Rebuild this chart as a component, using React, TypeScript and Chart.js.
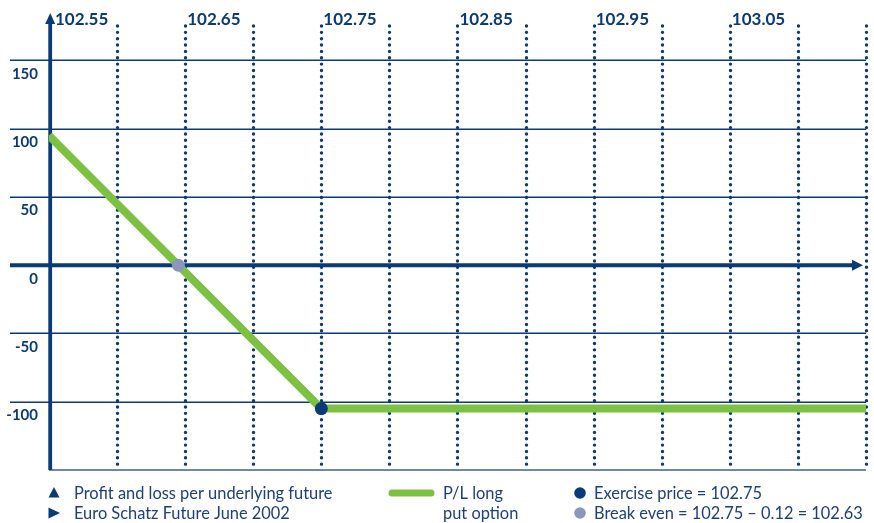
import React, { useEffect, useRef } from 'react';
import { Chart, registerables } from 'chart.js';

Chart.register(...registerables);

// ---- data ----
const xTickValues = [102.55, 102.6, 102.65, 102.7, 102.75, 102.8, 102.85, 102.9, 102.95, 103.0, 103.05, 103.1, 103.15];
const xTickLabels = ['102.55', '102.65', '102.75', '102.85', '102.95', '103.05'];
const xLabelValues = [102.55, 102.65, 102.75, 102.85, 102.95, 103.05];
const yTickValues = [150, 100, 50, -50, -100];
const yTickLabels = ['150', '100', '50', '0', '-50', '-100'];
const yLabelValues = [150, 100, 50, 0, -50, -100];
const xRange = [102.55, 103.15];
const yRange = [-150, 176];

const futurePrice = [102.55, 102.645, 102.75, 103.15];
const profitLoss = [95, 0, -105, -105];
const exercisePrice = [102.75];
const exercisePL = [-105];
const breakEvenPrice = [102.645];
const breakEvenPL = [0];

const legendLeft = ['Profit and loss per underlying future', 'Euro Schatz Future June 2002'];
const legendMiddle = ['P/L long', 'put option'];
const legendRight = ['Exercise price = 102.75', 'Break even = 102.75 \u2013 0.12 = 102.63'];

// ---- styles ----
const NAVY = '#0a3a78';
const TEXT = '#1c3f7d';
const GREEN = '#7dc142';
const GREY = '#8b96be';

const gridPlugin = {
  id: 'schematicGrid',
  beforeDatasetsDraw(chart: any) {
    const { ctx, chartArea, scales } = chart;
    const xs = scales.x;
    const ys = scales.y;
    const left = chartArea.left;
    const right = chartArea.right;
    const top = chartArea.top;
    const bottom = chartArea.bottom;
    ctx.save();

    // horizontal grid lines
    ctx.strokeStyle = NAVY;
    ctx.lineWidth = 1.6;
    yTickValues.forEach((v) => {
      const y = Math.round(ys.getPixelForValue(v)) + 0.2;
      ctx.beginPath();
      ctx.moveTo(10, y);
      ctx.lineTo(right, y);
      ctx.stroke();
    });
    // bottom line
    ctx.strokeStyle = '#3e5f94';
    ctx.lineWidth = 1.3;
    ctx.beginPath();
    ctx.moveTo(left, bottom);
    ctx.lineTo(right, bottom);
    ctx.stroke();

    // dotted vertical lines
    ctx.strokeStyle = NAVY;
    ctx.lineWidth = 3.4;
    ctx.lineCap = 'round';
    ctx.setLineDash([0, 6.35]);
    xTickValues.slice(1).forEach((v) => {
      const x = Math.round(xs.getPixelForValue(v)) + 0.5;
      ctx.beginPath();
      ctx.moveTo(x, top + 1);
      ctx.lineTo(x, bottom - 4);
      ctx.stroke();
    });
    ctx.setLineDash([]);
    ctx.lineCap = 'butt';

    // y axis with arrow
    const ax = left + 1.2;
    ctx.strokeStyle = NAVY;
    ctx.fillStyle = NAVY;
    ctx.lineWidth = 3.8;
    ctx.beginPath();
    ctx.moveTo(ax, bottom);
    ctx.lineTo(ax, top - 2);
    ctx.stroke();
    ctx.beginPath();
    ctx.moveTo(ax, top - 12);
    ctx.lineTo(ax - 5, top - 1);
    ctx.lineTo(ax + 5, top - 1);
    ctx.closePath();
    ctx.fill();

    // x axis (zero line) with arrow
    const y0 = ys.getPixelForValue(0);
    ctx.beginPath();
    ctx.moveTo(10, y0);
    ctx.lineTo(right - 12, y0);
    ctx.stroke();
    ctx.beginPath();
    ctx.moveTo(right - 3, y0);
    ctx.lineTo(right - 14, y0 - 5.5);
    ctx.lineTo(right - 14, y0 + 5.5);
    ctx.closePath();
    ctx.fill();

    // tick labels
    ctx.fillStyle = NAVY;
    ctx.font = 'bold 17px Lato';
    ctx.textAlign = 'left';
    ctx.textBaseline = 'alphabetic';
    xLabelValues.forEach((v, i) => {
      const x = xs.getPixelForValue(v);
      ctx.fillText(xTickLabels[i], x + (i === 0 ? 6 : 2), top);
    });
    ctx.font = 'bold 15px Lato';
    ctx.textAlign = 'right';
    yLabelValues.forEach((v, i) => {
      const y = ys.getPixelForValue(v);
      ctx.fillText(yTickLabels[i], 38, y + 18.5);
    });
    ctx.restore();
  },
  afterDraw(chart: any) {
    const { ctx } = chart;
    ctx.save();
    const row1 = 499;
    const row2 = 519;
    // markers
    ctx.fillStyle = NAVY;
    ctx.beginPath();
    ctx.moveTo(54, row1 - 12);
    ctx.lineTo(59.5, row1 - 1.5);
    ctx.lineTo(48.5, row1 - 1.5);
    ctx.closePath();
    ctx.fill();
    ctx.beginPath();
    ctx.moveTo(48.5, row2 - 11.5);
    ctx.lineTo(60, row2 - 6);
    ctx.lineTo(48.5, row2 - 0.5);
    ctx.closePath();
    ctx.fill();

    ctx.strokeStyle = GREEN;
    ctx.lineWidth = 7;
    ctx.lineCap = 'round';
    ctx.beginPath();
    ctx.moveTo(392, row1 - 6);
    ctx.lineTo(431, row1 - 6);
    ctx.stroke();

    ctx.fillStyle = NAVY;
    ctx.beginPath();
    ctx.arc(580, row1 - 6, 5.8, 0, Math.PI * 2);
    ctx.fill();
    ctx.fillStyle = GREY;
    ctx.beginPath();
    ctx.arc(580, row2 - 6, 5.8, 0, Math.PI * 2);
    ctx.fill();

    ctx.fillStyle = TEXT;
    ctx.font = '16.4px Lato';
    ctx.textAlign = 'left';
    ctx.textBaseline = 'alphabetic';
    ctx.fillText(legendLeft[0], 74, row1);
    ctx.fillText(legendLeft[1], 74, row2);
    ctx.fillText(legendMiddle[0], 443, row1);
    ctx.fillText(legendMiddle[1], 443, row2);
    ctx.fillText(legendRight[0], 594, row1);
    ctx.fillText(legendRight[1], 594, row2);
    ctx.restore();
  },
};

export default function App() {
  const canvasRef = useRef<HTMLCanvasElement | null>(null);

  useEffect(() => {
    if (!canvasRef.current) return;
    const chart = new Chart(canvasRef.current, {
      type: 'line',
      data: {
        datasets: [
          {
            label: 'Exercise price',
            data: exercisePrice.map((x, i) => ({ x, y: exercisePL[i] })),
            showLine: false,
            pointRadius: 6.5,
            pointBackgroundColor: NAVY,
            pointBorderWidth: 0,
            clip: false,
          },
          {
            label: 'Break even',
            data: breakEvenPrice.map((x, i) => ({ x, y: breakEvenPL[i] })),
            showLine: false,
            pointRadius: 6.5,
            pointBackgroundColor: GREY,
            pointBorderWidth: 0,
            clip: false,
          },
          {
            label: 'P/L long put option',
            data: futurePrice.map((x, i) => ({ x, y: profitLoss[i] })),
            borderColor: GREEN,
            borderWidth: 8,
            pointRadius: 0,
            tension: 0,
            borderCapStyle: 'butt',
            borderJoinStyle: 'round',
          },
        ],
      } as any,
      options: {
        animation: false,
        responsive: false,
        devicePixelRatio: 1,
        layout: { padding: { left: 49, right: 8, top: 25, bottom: 53 } },
        plugins: { legend: { display: false }, tooltip: { enabled: false } },
        scales: {
          x: { type: 'linear', min: xRange[0], max: xRange[1], display: false },
          y: { type: 'linear', min: yRange[0], max: yRange[1], display: false },
        },
      } as any,
      plugins: [gridPlugin],
    });
    return () => chart.destroy();
  }, []);

  return (
    <div style={{ position: 'fixed', left: 0, top: 0, width: 874, height: 523, background: '#fff' }}>
      <canvas ref={canvasRef} width={874} height={523} style={{ width: 874, height: 523 }} />
    </div>
  );
}
